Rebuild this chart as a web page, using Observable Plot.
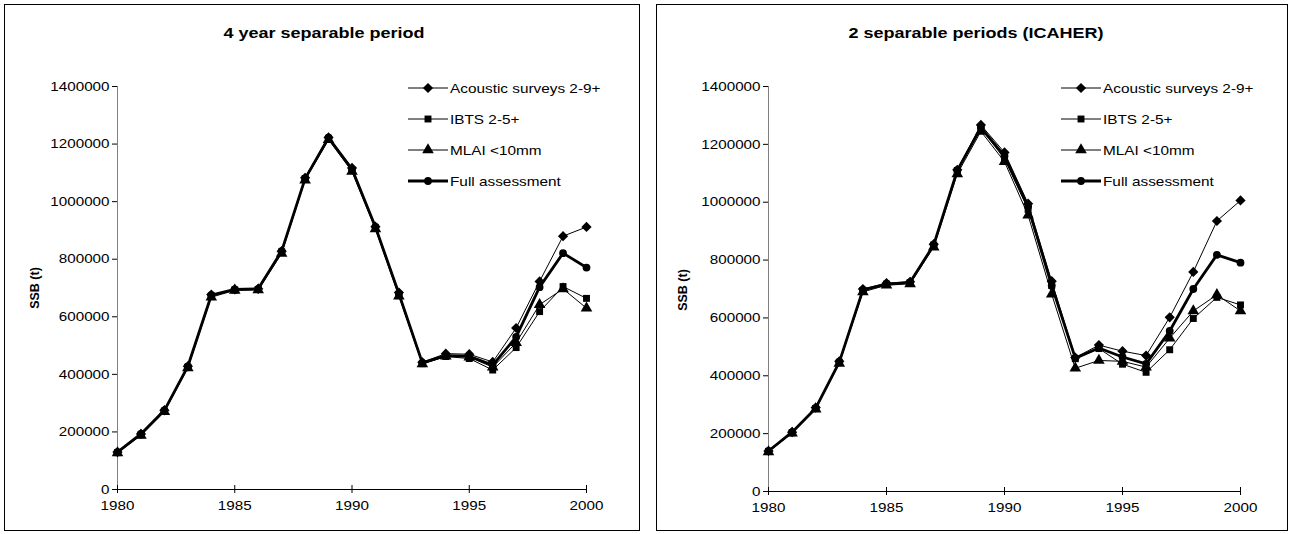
<!DOCTYPE html>
<html><head><meta charset="utf-8">
<script src="https://cdn.jsdelivr.net/npm/d3@7"></script>
<script src="https://cdn.jsdelivr.net/npm/@observablehq/plot@0.6"></script>
<style>
body{margin:0;background:#fff;font-family:Arial,"Liberation Sans",sans-serif;color:#000}
#root{position:relative;width:1292px;height:534px;overflow:hidden}
.frame{position:absolute;border:1px solid #000;box-sizing:border-box}
.svgwrap{position:absolute}
.title{position:absolute;font-weight:bold;font-size:15px;white-space:nowrap;transform:translate(-50%,-50%) scaleX(1.2)}
.ylab{position:absolute;font-weight:bold;font-size:12.5px;white-space:nowrap;transform:translate(-50%,-50%) rotate(-90deg)}
.legend{position:absolute;font-size:13px}
.legend .row{position:absolute;left:0;height:20px;white-space:nowrap;display:flex;align-items:center}
.legend .row span{display:inline-block;transform:scaleX(1.18);transform-origin:left center}
.legend svg{display:block}
</style>
</head><body>
<div id="root"></div>
<script>
// ---- data ----
const years = [1980,1981,1982,1983,1984,1985,1986,1987,1988,1989,1990,1991,1992,1993,1994,1995,1996,1997,1998,1999,2000];

// Panel 1: 4 year separable period
const acoustic4 = [130000,193000,275000,428000,677000,695000,697000,828000,1083000,1223000,1117000,913000,684000,442000,472000,470000,443000,561000,723000,880000,912000];
const ibts4     = [128000,190000,272000,425000,672000,693000,695000,825000,1080000,1220000,1110000,908000,676000,437000,462000,455000,415000,493000,618000,705000,664000];
const mlai4     = [127000,188000,270000,422000,668000,692000,693000,820000,1075000,1215000,1105000,905000,672000,436000,463000,460000,425000,510000,642000,697000,630000];
const full4     = [130000,193000,275000,428000,675000,695000,697000,828000,1080000,1222000,1113000,912000,680000,440000,465000,463000,432000,530000,703000,821000,771000];

// Panel 2: 2 separable periods (ICAHER)
const acoustic2 = [140000,205000,290000,450000,700000,720000,725000,855000,1112000,1267000,1172000,995000,727000,463000,506000,485000,470000,602000,759000,935000,1006000];
const ibts2     = [138000,203000,287000,447000,695000,717000,722000,852000,1110000,1255000,1150000,975000,712000,459000,494000,440000,412000,490000,598000,671000,645000];
const mlai2     = [137000,202000,285000,443000,690000,713000,718000,845000,1098000,1245000,1140000,955000,682000,426000,453000,450000,430000,530000,624000,680000,624000];
const full2     = [140000,205000,288000,447000,697000,717000,723000,852000,1110000,1258000,1160000,985000,712000,461000,496000,465000,441000,555000,700000,818000,791000];

const seriesNames = ["Acoustic surveys 2-9+","IBTS 2-5+","MLAI <10mm","Full assessment"];
const seriesSymbols = ["diamond2","square","triangle","circle"];
const seriesWidths = [1,1,1,2.8];
const seriesR = [4.6,3.9,4.3,3.9];

const titles = ["4 year separable period","2 separable periods (ICAHER)"];
const yLabel = "SSB (t)";
const xTicks = [1980,1985,1990,1995,2000];
const yTicks = [0,200000,400000,600000,800000,1000000,1200000,1400000];

// ---- layout ----
const panels = [
  {frame:{left:4,top:4,width:636,height:527}, m:{l:113,r:54,t:82,b:42},
   legend:{left:408,top:78}, title:{x:324,y:32}, ylab:{x:35,y:288},
   data:[acoustic4,ibts4,mlai4,full4], title_i:0},
  {frame:{left:656,top:4,width:632,height:527}, m:{l:112,r:48,t:82,b:40},
   legend:{left:1061,top:78}, title:{x:976,y:32}, ylab:{x:683,y:290},
   data:[acoustic2,ibts2,mlai2,full2], title_i:1}
];

const root = document.getElementById("root");
const symbolMap = {diamond2:"symbolDiamond2",square:"symbolSquare",triangle:"symbolTriangle",circle:"symbolCircle"};

panels.forEach(p => {
  const rows = [];
  p.data.forEach((vals, si) => {
    years.forEach((yr, i) => rows.push({series: seriesNames[si], si, year: yr, value: vals[i]}));
  });
  const marks = [
    Plot.ruleX([1980], {stroke:"#808080", strokeWidth:1}),
    Plot.ruleY([0], {stroke:"#000", strokeWidth:1}),
    Plot.axisY({ticks: yTicks, tickSize: 5, tickPadding: 3, tickFormat: d3.format("d"), label: null, stroke:"#000"}),
    Plot.axisX({ticks: xTicks, tickSize: 8, dy: -4, tickPadding: 7, tickFormat: d => String(d), label: null, stroke:"#000"})
  ];
  seriesNames.forEach((name, si) => {
    const d = rows.filter(r => r.si === si);
    marks.push(Plot.line(d, {x:"year", y:"value", stroke:"#000", strokeWidth: seriesWidths[si]}));
    marks.push(Plot.dot(d, {x:"year", y:"value", symbol: () => seriesSymbols[si], fill:"#000", stroke:"none", r: seriesR[si]}));
  });
  const chart = Plot.plot({
    width: p.frame.width, height: p.frame.height,
    marginLeft: p.m.l, marginRight: p.m.r, marginTop: p.m.t, marginBottom: p.m.b,
    style: {fontFamily: "Arial, 'Liberation Sans', sans-serif", fontSize: "13px", color: "#000", background: "transparent", overflow:"visible"},
    x: {domain: [1980, 2000], type: "linear"},
    y: {domain: [0, 1400000], type: "linear"},
    symbol: {type: "identity"},
    marks
  });
  // stretch tick labels horizontally like the reference
  chart.querySelectorAll('g[aria-label$="tick label"] text').forEach(t => {
    const xa = t.getAttribute("x"), ya = t.getAttribute("y");
    let x = 0, y = 0;
    if (xa !== null && isFinite(+xa)) { x = +xa; t.removeAttribute("x"); }
    if (ya !== null && isFinite(+ya)) { y = +ya; t.removeAttribute("y"); }
    const tr = t.getAttribute("transform") || "";
    t.setAttribute("transform", `${tr} translate(${x},${y}) scale(1.17,1)`.trim());
  });
  const wrap = document.createElement("div");
  wrap.className = "svgwrap";
  wrap.style.left = p.frame.left + "px"; wrap.style.top = p.frame.top + "px";
  wrap.appendChild(chart);
  root.appendChild(wrap);

  const fr = document.createElement("div");
  fr.className = "frame";
  Object.assign(fr.style, {left:p.frame.left+"px", top:p.frame.top+"px", width:p.frame.width+"px", height:p.frame.height+"px"});
  root.appendChild(fr);

  const t = document.createElement("div");
  t.className = "title"; t.textContent = titles[p.title_i];
  t.style.left = p.title.x + "px"; t.style.top = p.title.y + "px";
  root.appendChild(t);

  const yl = document.createElement("div");
  yl.className = "ylab"; yl.textContent = yLabel;
  yl.style.left = p.ylab.x + "px"; yl.style.top = p.ylab.y + "px";
  root.appendChild(yl);

  const lg = document.createElement("div");
  lg.className = "legend";
  lg.style.left = p.legend.left + "px"; lg.style.top = p.legend.top + "px";
  seriesNames.forEach((name, si) => {
    const row = document.createElement("div");
    row.className = "row";
    row.style.top = (si * 31) + "px";
    const sym = d3.symbol(d3[symbolMap[seriesSymbols[si]]], Math.PI * seriesR[si] * seriesR[si]);
    const svg = d3.create("svg").attr("width", 42).attr("height", 20);
    svg.append("line").attr("x1",0).attr("x2",40).attr("y1",10).attr("y2",10).attr("stroke","#000").attr("stroke-width",seriesWidths[si]);
    svg.append("path").attr("d", sym()).attr("transform","translate(20,10)").attr("fill","#000");
    row.appendChild(svg.node());
    const sp = document.createElement("span");
    sp.textContent = name;
    row.appendChild(sp);
    lg.appendChild(row);
  });
  root.appendChild(lg);
});
</script>
</body></html>
